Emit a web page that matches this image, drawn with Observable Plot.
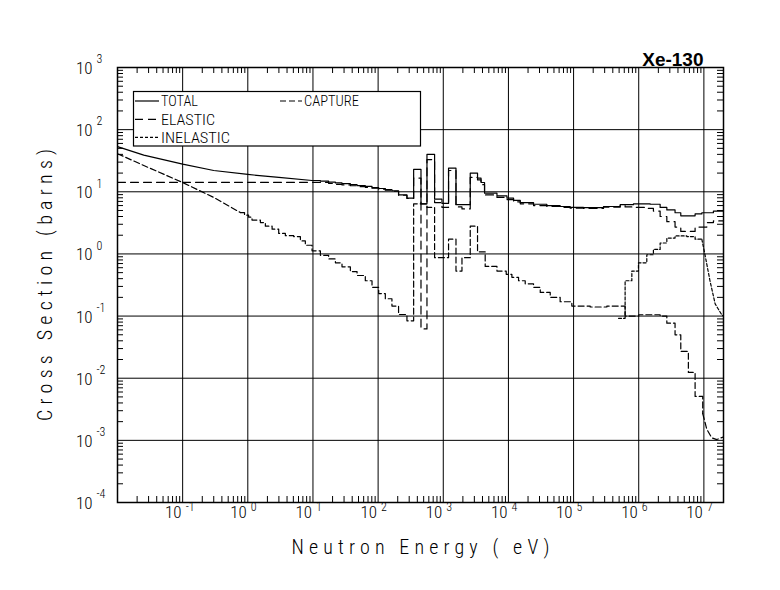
<!DOCTYPE html>
<html><head><meta charset="utf-8">
<script src="https://cdn.jsdelivr.net/npm/d3@7"></script>
<script src="https://cdn.jsdelivr.net/npm/@observablehq/plot@0.6"></script>
<style>
html,body{margin:0;padding:0;background:#fff;}
#chart{width:780px;height:590px;}
</style></head><body><div id="chart"></div>
<script>
// ---------- texts ----------
const title = "Xe-130";
const xLabel = "Neutron Energy ( eV)";
const yLabel = "Cross Section (barns)";
const legendNames = ["TOTAL", "ELASTIC", "INELASTIC", "CAPTURE"];

// ---------- tick labels ----------
const xDecades = [1e-1, 1e0, 1e1, 1e2, 1e3, 1e4, 1e5, 1e6, 1e7];
const xExponents = ["-1", "0", "1", "2", "3", "4", "5", "6", "7"];
const yDecades = [1e-4, 1e-3, 1e-2, 1e-1, 1e0, 1e1, 1e2, 1e3];
const yExponents = ["-4", "-3", "-2", "-1", "0", "1", "2", "3"];

// ---------- TOTAL ----------
const totalSmoothE = [0.01, 0.0253, 0.1, 0.3, 1, 3, 9.68];
const totalSmooth  = [53.3, 39, 27.8, 22, 19, 17, 15.2];
const totalStepE = [9.68, 13.0, 17.4, 22.1, 27.9, 37.5, 47.5, 63.6, 80.6, 102, 129, 163, 206, 277,
  351, 455, 562, 736, 955, 1205, 1567, 2594, 3357, 3800, 4300, 6670, 9500, 1.2e4, 1.52e4, 2.43e4,
  3.89e4, 6.22e4, 8.87e4, 1.42e5, 2.88e5, 5.19e5, 8.3e5, 1.5e6, 2.13e6, 2.7e6, 3.61e6, 4.42e6,
  7.33e6, 9.3e6, 1.4e7, 2e7];
const totalStep = [15.2, 14.8, 14.3, 13.9, 13.5, 13.0, 12.6, 12.2, 11.7, 11.3, 10.8, 10.4, 8.9, 7.9,
  23, 6.4, 40, 7.6, 6.5, 24, 6.2, 19.9, 16.6, 14.1, 9.5, 8.6, 7.9, 7.3, 6.7, 6.3,
  6.0, 5.8, 5.6, 5.55, 5.8, 6.2, 6.4, 6.3, 5.6, 5.1, 4.6, 4.1,
  4.4, 4.6, 4.9, 4.9];

// ---------- ELASTIC ----------
const elasticE = [0.01, 17.4, 22.1, 27.9, 37.5, 47.5, 63.6, 80.6, 102, 129, 163, 206, 277,
  351, 455, 562, 736, 955, 1205, 1567, 1937, 2594, 3357, 3800, 4300, 6670, 9500, 1.2e4, 1.52e4,
  2.43e4, 3.89e4, 6.22e4, 8.87e4, 1.42e5, 2.88e5, 5.19e5, 6.18e5, 7.84e5, 9.9e5, 1.33e6, 1.68e6,
  2.13e6, 2.7e6, 3.61e6, 4.42e6, 7.33e6, 1.11e7, 1.4e7, 2e7];
const elastic = [14.2, 13.6, 13.2, 12.9, 12.5, 12.1, 11.8, 11.4, 11.0, 10.6, 10.2, 8.8, 7.8,
  16.6, 0.062, 33, 6.7, 5.6, 22, 5.7, 5.3, 17, 15.5, 13, 8.9, 8.1, 7.5, 6.9, 6.4,
  6.0, 5.8, 5.6, 5.45, 5.4, 5.65, 6.0, 5.7, 5.6, 5.6, 5.4, 4.9,
  4.0, 3.3, 2.7, 2.3, 2.7, 3.2, 3.4, 3.4];

// ---------- CAPTURE ----------
const captureSmoothE = [0.01, 0.0253, 0.1, 0.3, 0.77];
const captureSmooth  = [41, 26.5, 14.1, 8.1, 4.63];
const captureStepE = [0.77, 0.89, 1.03, 1.16, 1.56, 1.86, 2.36, 2.98, 3.77, 5.06, 6.41, 7.64, 9.68,
  13.0, 17.4, 22.1, 27.9, 37.5, 47.5, 63.6, 80.6, 102, 129, 163, 206, 277,
  351, 562, 736, 1205, 1567, 1937, 2594, 3357, 4400, 6670, 9250, 1.13e4, 1.43e4, 1.81e4, 2.43e4,
  3.08e4, 4.38e4, 6.22e4, 9.4e4, 1.8e5, 3.24e5, 6.18e5, 1.0e6, 2.13e6, 2.7e6, 3.61e6, 4.42e6,
  5.78e6, 7.33e6, 9.6e6];
const captureStep = [4.63, 4.2, 3.9, 3.5, 3.2, 2.8, 2.5, 2.14, 1.97, 1.9, 1.62, 1.38, 1.12,
  0.95, 0.83, 0.72, 0.62, 0.52, 0.45, 0.37, 0.29, 0.23, 0.19, 0.145, 0.106, 0.084,
  6.4, 5.6, 0.87, 1.73, 0.53, 0.87, 2.8, 1.08, 0.63, 0.53, 0.47, 0.42, 0.37, 0.33, 0.29,
  0.24, 0.20, 0.17, 0.145, 0.14, 0.145, 0.10, 0.105, 0.1, 0.077, 0.05, 0.027,
  0.0124, 0.0051, 0.0027];
const captureTailE = [9.6e6, 1.11e7, 1.32e7, 1.58e7, 2e7];
const captureTail  = [0.0027, 0.0015, 0.0011, 0.00103, 0.00114];

// ---------- INELASTIC ----------
const inelasticStepE = [4.9e5, 6.18e5, 7.84e5, 9.9e5, 1.33e6, 1.68e6, 2.13e6, 2.7e6, 3.61e6, 5.47e6, 7.33e6, 9.29e6];
const inelasticStep  = [0.092, 0.37, 0.53, 0.72, 0.97, 1.18, 1.5, 1.8, 1.95, 1.9, 1.73, 1.73];
const inelasticTailE = [9.29e6, 1.04e7, 1.24e7, 1.49e7, 1.88e7, 2e7];
const inelasticTail  = [1.73, 0.97, 0.37, 0.157, 0.105, 0.1];

// ---------- styles ----------
const FONT = "'Roboto Condensed', 'DejaVu Sans Condensed', 'Liberation Sans Narrow', 'DejaVu Sans', sans-serif";
const dash = {TOTAL: null, ELASTIC: "8,5", INELASTIC: "3,2", CAPTURE: "6,3"};
const LW = 1.2;

const pts = (E, S) => E.map((e, i) => ({e, s: S[i]}));

// minor tick positions of the log axes
const minorX = [];
for (let k = -2; k <= 7; k++) for (let m = 2; m <= 9; m++) { const v = m * Math.pow(10, k); if (v < 2e7) minorX.push(v); }
const minorY = [];
for (let k = -4; k <= 2; k++) for (let m = 2; m <= 9; m++) minorY.push(m * Math.pow(10, k));

const W = 780, H = 590, ML = 117, MR = 57, MT = 67, MB = 88;
const FW = W - ML - MR, FH = H - MT - MB;
const XT_LEN = 258, YT_LEN = 272;   // widths of the spaced-out axis titles

function lineMark(E, S, name, curve) {
  return Plot.line(pts(E, S), {x: "e", y: "s", curve, stroke: "black", strokeWidth: LW,
    strokeDasharray: dash[name], clip: true});
}

const svg = Plot.plot({
  width: W, height: H,
  marginLeft: ML, marginRight: MR, marginTop: MT, marginBottom: MB,
  style: {background: "white", color: "black"},
  x: {type: "log", domain: [0.01, 2e7], axis: null},
  y: {type: "log", domain: [1e-4, 1e3], axis: null},
  marks: [
    Plot.ruleX(xDecades, {stroke: "black", strokeWidth: 1}),
    Plot.ruleY(yDecades.slice(1, -1), {stroke: "black", strokeWidth: 1}),
    Plot.ruleX(minorX, {stroke: "black", strokeWidth: 1, insetTop: FH - 6}),
    Plot.ruleX(minorX, {stroke: "black", strokeWidth: 1, insetBottom: FH - 6}),
    Plot.ruleY(minorY, {stroke: "black", strokeWidth: 1, insetRight: FW - 6}),
    Plot.ruleY(minorY, {stroke: "black", strokeWidth: 1, insetLeft: FW - 6}),
    lineMark(totalSmoothE, totalSmooth, "TOTAL", "linear"),
    lineMark(totalStepE, totalStep, "TOTAL", "step-after"),
    lineMark(elasticE, elastic, "ELASTIC", "step-after"),
    lineMark(captureSmoothE, captureSmooth, "CAPTURE", "linear"),
    lineMark(captureStepE, captureStep, "CAPTURE", "step-after"),
    lineMark(captureTailE, captureTail, "CAPTURE", "linear"),
    lineMark(inelasticStepE, inelasticStep, "INELASTIC", "step-after"),
    lineMark(inelasticTailE, inelasticTail, "INELASTIC", "linear"),
    Plot.frame({stroke: "black", strokeWidth: 1.5}),
    // x tick labels: "10" + exponent
    Plot.text(xDecades, {x: d => d, frameAnchor: "bottom", text: () => "10", textAnchor: "end",
      dx: -1, dy: 15, fontSize: 17, fontFamily: FONT, fontWeight: 300, fill: "black"}),
    Plot.text(xDecades, {x: d => d, frameAnchor: "bottom", text: (d, i) => xExponents[i], textAnchor: "start",
      dx: 3, dy: 8, fontSize: 12, fontFamily: FONT, fontWeight: 300, fill: "black"}),
    // y tick labels
    Plot.text(yDecades, {y: d => d, frameAnchor: "left", text: () => "10", textAnchor: "end",
      dx: -25, dy: 1, fontSize: 17, fontFamily: FONT, fontWeight: 300, fill: "black"}),
    Plot.text(yDecades, {y: d => d, frameAnchor: "left", text: (d, i) => yExponents[i], textAnchor: "start",
      dx: -21, dy: -8, fontSize: 12, fontFamily: FONT, fontWeight: 300, fill: "black"}),
    // axis titles (start-anchored so that the stretched text stays centred)
    Plot.text([xLabel], {frameAnchor: "bottom", text: d => d, textAnchor: "start", dx: -XT_LEN / 2, dy: 51,
      fontSize: 20, fontFamily: FONT, fontWeight: 300, fill: "black"}),
    Plot.text([yLabel], {frameAnchor: "left", text: d => d, rotate: -90, textAnchor: "start",
      dx: -72, dy: YT_LEN / 2, fontSize: 20, fontFamily: FONT, fontWeight: 300, fill: "black"}),
    // title
    Plot.text([title], {frameAnchor: "top-right", text: d => d, textAnchor: "end", dx: -20, dy: -15,
      fontSize: 19, fontWeight: "bold", fontFamily: "'Liberation Sans', Arial, sans-serif", fill: "black"})
  ]
});

// stretch the stroke-font axis titles to the reference widths (wide letter spacing)
const sel = d3.select(svg);
sel.selectAll("text").filter(function() { return this.textContent === xLabel; })
  .attr("textLength", XT_LEN).attr("lengthAdjust", "spacing");
sel.selectAll("text").filter(function() { return this.textContent === yLabel; })
  .attr("textLength", YT_LEN).attr("lengthAdjust", "spacing");

// legend (white box inside the frame)
const lg = sel.append("g").attr("font-family", FONT).attr("font-weight", 300).attr("font-size", 15)
  .attr("fill", "black").attr("text-anchor", "start");
const bx = ML + 16.5, by = MT + 24.5;
lg.append("rect").attr("x", bx).attr("y", by).attr("width", 287).attr("height", 54.5)
  .attr("fill", "white").attr("stroke", "black").attr("stroke-width", 1.2);
const legendPos = [
  {name: legendNames[0], x: bx + 1.5, y: by + 9.5, w: 24, tw: 37},
  {name: legendNames[1], x: bx + 1.5, y: by + 27.8, w: 24, tw: 54},
  {name: legendNames[2], x: bx + 1.5, y: by + 45.8, w: 24, tw: 69},
  {name: legendNames[3], x: bx + 146.5, y: by + 9.5, w: 22, tw: 55}
];
for (const it of legendPos) {
  lg.append("line").attr("x1", it.x).attr("x2", it.x + it.w).attr("y1", it.y).attr("y2", it.y)
    .attr("stroke", "black").attr("stroke-width", LW).attr("stroke-dasharray", dash[it.name]);
  lg.append("text").attr("x", it.x + it.w + 2).attr("y", it.y).attr("dy", "0.36em")
    .attr("text-anchor", "start")
    .attr("textLength", it.tw).attr("lengthAdjust", "spacingAndGlyphs").text(it.name);
}

document.getElementById("chart").appendChild(svg);
</script>
</body></html>
